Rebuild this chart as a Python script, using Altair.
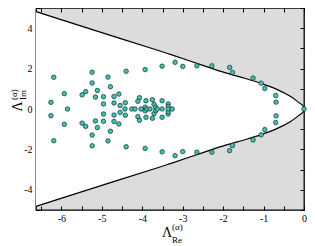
import altair as alt
import pandas as pd

# ---- eigenvalue points ----
pt_x = [
    # upper half-plane
    -6.19, -6.26, -5.93, -5.24, -5.24, -5.40, -5.49, -5.11, -5.16, -4.96,
    -4.96, -4.85, -4.79, -4.70, -4.58, -4.70, -4.55, -4.42, -4.40, -3.93,
    -3.51, -3.19, -3.00, -2.65, -2.28, -1.84, -1.77, -1.26, -1.06, -0.97,
    -0.70, -0.69, -4.07, -4.11, -3.91, -3.75, -3.71, -3.51, -3.36, -3.36,
    -3.93, -3.67,
    # lower half-plane
    -6.19, -6.26, -5.93, -5.24, -5.24, -5.40, -5.49, -5.11, -5.16, -4.96,
    -4.96, -4.85, -4.79, -4.70, -4.58, -4.70, -4.55, -4.42, -4.40, -3.93,
    -3.51, -3.19, -3.00, -2.65, -2.28, -1.84, -1.77, -1.26, -1.06, -0.97,
    -0.70, -0.69, -4.07, -4.11, -3.91, -3.75, -3.71, -3.51, -3.36, -3.36,
    -3.93, -3.67,
    # real axis
    -5.85, -4.43, -4.26, -4.18, -4.03, -3.89, -3.81, -3.63, -3.51, -3.36,
    -3.26, 0.0,
]
pt_y = [
    1.57, 0.33, 0.76, 1.82, 1.29, 0.86, 0.70, 0.92, 0.59, 0.61,
    0.25, 1.58, 1.10, 0.62, 0.74, 0.30, 0.17, 0.31, 1.87, 1.95,
    2.12, 2.31, 2.11, 2.14, 2.14, 2.06, 1.81, 1.53, 1.28, 1.02,
    0.67, 0.34, 0.56, 0.38, 0.41, 0.46, 0.23, 0.41, 0.25, 0.13,
    0.09, 0.09,
    -1.57, -0.33, -0.76, -1.82, -1.29, -0.86, -0.70, -0.92, -0.59, -0.61,
    -0.25, -1.58, -1.10, -0.62, -0.74, -0.30, -0.17, -0.31, -1.87, -1.95,
    -2.12, -2.31, -2.11, -2.14, -2.14, -2.06, -1.81, -1.53, -1.28, -1.02,
    -0.67, -0.34, -0.56, -0.38, -0.41, -0.46, -0.23, -0.41, -0.25, -0.13,
    -0.09, -0.09,
    0.0, 0.0, 0.0, 0.0, 0.0, 0.0, 0.0, 0.0, 0.0, 0.0,
    0.0, 0.0,
]

# ---- boundary curve ----
curve_x = [-6.63, -5.08, -3.64, -3.27, -2.50, -1.94, -1.46, -1.06, -0.66, -0.34, -0.14, -0.04, -0.01, 0.0]
curve_up = [4.82, 3.83, 2.92, 2.68, 2.16, 1.79, 1.52, 1.27, 0.96, 0.63, 0.34, 0.19, 0.10, 0.0]
curve_lo = [-4.82, -3.83, -2.92, -2.68, -2.16, -1.79, -1.52, -1.27, -0.96, -0.63, -0.34, -0.19, -0.10, 0.0]

x_ticks = [-6.5, -6.0, -5.5, -5.0, -4.5, -4.0, -3.5, -3.0, -2.5, -2.0, -1.5, -1.0, -0.5, 0.0]
y_ticks = [-5, -4, -3, -2, -1, 0, 1, 2, 3, 4, 5]

FONT = "Liberation Serif"
TEAL = "#3cc6b4"
EDGE = "#1f3b3b"
GREY = "#dcdcdc"

pts = pd.DataFrame({"x": pt_x, "y": pt_y})
area_df = pd.DataFrame({"cx": curve_x, "up": curve_up, "lo": curve_lo})
line_df = pd.DataFrame({
    "cx": curve_x + curve_x,
    "cy": curve_up + curve_lo,
    "branch": ["up"] * len(curve_x) + ["lo"] * len(curve_x),
})

xs = alt.Scale(domain=[-6.63, 0], nice=False, zero=False)
ys = alt.Scale(domain=[-5, 5], nice=False, zero=False)

area = alt.Chart(area_df).mark_area(color="white", interpolate="catmull-rom", opacity=1).encode(
    x=alt.X("cx:Q", scale=xs, axis=alt.Axis(
        orient="bottom", values=x_ticks, offset=-4, tickSize=4, domain=False, grid=False,
        title=None, labelPadding=3, labelFlush=False, labelOverlap=False,
        labelExpr="datum.value % 1 === 0 ? '' + datum.value : ''")),
    y=alt.Y("up:Q", scale=ys, axis=alt.Axis(
        orient="left", values=y_ticks, offset=-4, tickSize=4, domain=False, grid=False,
        title=None, labelPadding=4, labelFlush=False, labelOverlap=False,
        labelExpr="datum.value % 2 === 0 ? '' + datum.value : ''")),
    y2="lo:Q",
)

line = alt.Chart(line_df).mark_line(color="black", strokeWidth=1.2, interpolate="catmull-rom").encode(
    x=alt.X("cx:Q", scale=xs, axis=alt.Axis(
        orient="top", values=x_ticks, offset=-4, tickSize=4, domain=False, grid=False,
        title=None, labels=False)),
    y=alt.Y("cy:Q", scale=ys, axis=alt.Axis(
        orient="right", values=y_ticks, offset=-4, tickSize=4, domain=False, grid=False,
        title=None, labels=False)),
    detail="branch:N",
)

points = alt.Chart(pts).mark_circle(
    color=TEAL, stroke=EDGE, strokeWidth=0.8, size=20, opacity=1, clip=False
).encode(
    x=alt.X("x:Q", scale=xs, axis=None),
    y=alt.Y("y:Q", scale=ys, axis=None),
)


def label(txt, x, y, size, align="left", angle=0):
    return alt.Chart(alt.Data(values=[{"t": txt}])).mark_text(
        font=FONT, fontSize=size, align=align, baseline="alphabetic", angle=angle, color="black"
    ).encode(text="t:N", x=alt.value(x), y=alt.value(y))


titles = [
    label("Λ", 131, 229, 14, align="center"),
    label("(α)", 136, 222, 9),
    label("Re", 136, 235, 9),
    label("Λ", -14, 98.5, 14, align="center", angle=270),
    label("(α)", -19.5, 92, 9, angle=270),
    label("Im", -10, 92, 9, angle=270),
]

chart = alt.layer(area, line, points, *titles).properties(
    width=268, height=202,
    autosize=alt.AutoSizeParams(type="none"),
    padding={"left": 28, "top": 0, "right": 3, "bottom": 36},
).configure_view(
    fill=GREY, stroke="black", strokeWidth=1.3
).configure_axis(
    labelFont=FONT, labelFontSize=10, labelColor="black", tickColor="black", tickWidth=1
)

chart.save("out.html", embed_options={"renderer": "svg", "actions": False})
